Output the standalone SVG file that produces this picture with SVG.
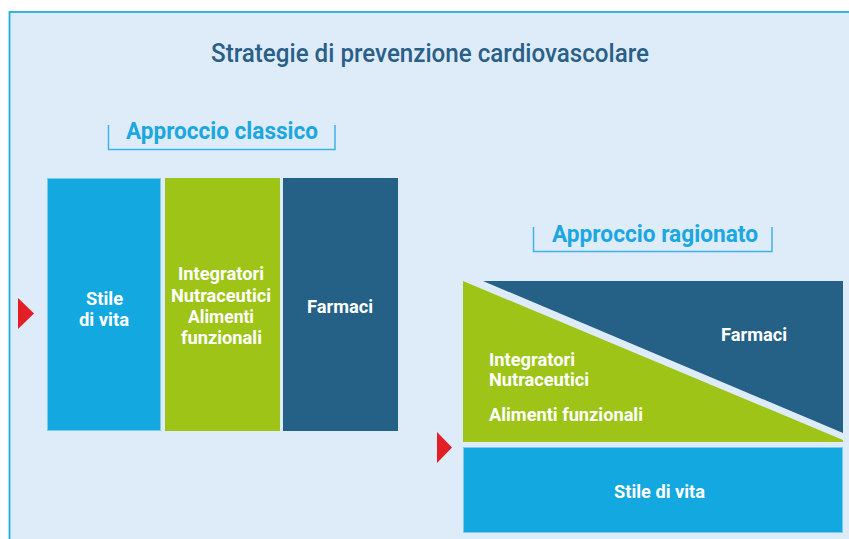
<svg xmlns="http://www.w3.org/2000/svg" width="849" height="539" viewBox="0 0 849 539">
<style>
.t{font-family:Roboto,"Liberation Sans",sans-serif;}
.title{font-size:26px;font-weight:500;fill:#2a5f87;}
.sub{font-size:23px;font-weight:bold;fill:#1ba7e0;}
.lbl{font-size:18px;font-weight:bold;fill:#ffffff;}
.br{fill:none;stroke:#3db3e6;stroke-width:1.5;}
.blue{fill:#13a8e0;stroke:#7fcbef;stroke-width:1;}
.green{fill:#9dc417;}
.dark{fill:#256087;}
.red{fill:#e31e25;}
</style>
<rect x="0" y="0" width="849" height="539" fill="#ffffff"/>
<rect x="9.5" y="12" width="845" height="540" fill="#deecf9" stroke="#1fb0d8" stroke-width="1.8"/>
<text class="t title" x="211" y="62" textLength="438" lengthAdjust="spacingAndGlyphs">Strategie di prevenzione cardiovascolare</text>

<g id="classico-header">
<path class="br" d="M108.5 125 V149.5 H335 V125"/>
<text class="t sub" x="126" y="139" textLength="192" lengthAdjust="spacingAndGlyphs">Approccio classico</text>
</g>
<g id="classico-stile">
<rect class="blue" x="47.5" y="178.5" width="113" height="252"/>
<text class="t lbl" text-anchor="middle"><tspan x="104.5" y="305" textLength="37" lengthAdjust="spacingAndGlyphs">Stile</tspan><tspan x="104" y="326" textLength="50" lengthAdjust="spacingAndGlyphs">di vita</tspan></text>
</g>
<g id="classico-integratori">
<rect class="green" x="165" y="178" width="115" height="253"/>
<text class="t lbl" text-anchor="middle"><tspan x="221" y="280" textLength="86" lengthAdjust="spacingAndGlyphs">Integratori</tspan><tspan x="221" y="302" textLength="100" lengthAdjust="spacingAndGlyphs">Nutraceutici</tspan><tspan x="221" y="323" textLength="66" lengthAdjust="spacingAndGlyphs">Alimenti</tspan><tspan x="221.5" y="344" textLength="81" lengthAdjust="spacingAndGlyphs">funzionali</tspan></text>
</g>
<g id="classico-farmaci">
<rect class="dark" x="283" y="178" width="115" height="253"/>
<text class="t lbl" x="307" y="313" textLength="66" lengthAdjust="spacingAndGlyphs">Farmaci</text>
</g>
<polygon id="arrow-left" class="red" points="18,298 34,313.5 18,329"/>

<g id="ragionato-header">
<path class="br" d="M533.5 227 V251.5 H772 V227"/>
<text class="t sub" x="552" y="242" textLength="206" lengthAdjust="spacingAndGlyphs">Approccio ragionato</text>
</g>
<g id="ragionato-farmaci">
<polygon class="dark" points="483,281 843,281 843,433"/>
<text class="t lbl" x="721" y="341" textLength="66" lengthAdjust="spacingAndGlyphs">Farmaci</text>
</g>
<g id="ragionato-integratori">
<polygon class="green" points="463,281 843,440 843,442 463,442"/>
<text class="t lbl" x="489" y="366" textLength="86" lengthAdjust="spacingAndGlyphs">Integratori</text>
<text class="t lbl" x="489" y="386" textLength="100" lengthAdjust="spacingAndGlyphs">Nutraceutici</text>
<text class="t lbl" x="489" y="421" textLength="154" lengthAdjust="spacingAndGlyphs">Alimenti funzionali</text>
</g>
<g id="ragionato-stile">
<rect class="blue" x="463.5" y="447.5" width="379" height="85"/>
<text class="t lbl" x="614" y="498" textLength="91" lengthAdjust="spacingAndGlyphs">Stile di vita</text>
</g>
<polygon id="arrow-right" class="red" points="437,432 452,447.5 437,463"/>
</svg>
